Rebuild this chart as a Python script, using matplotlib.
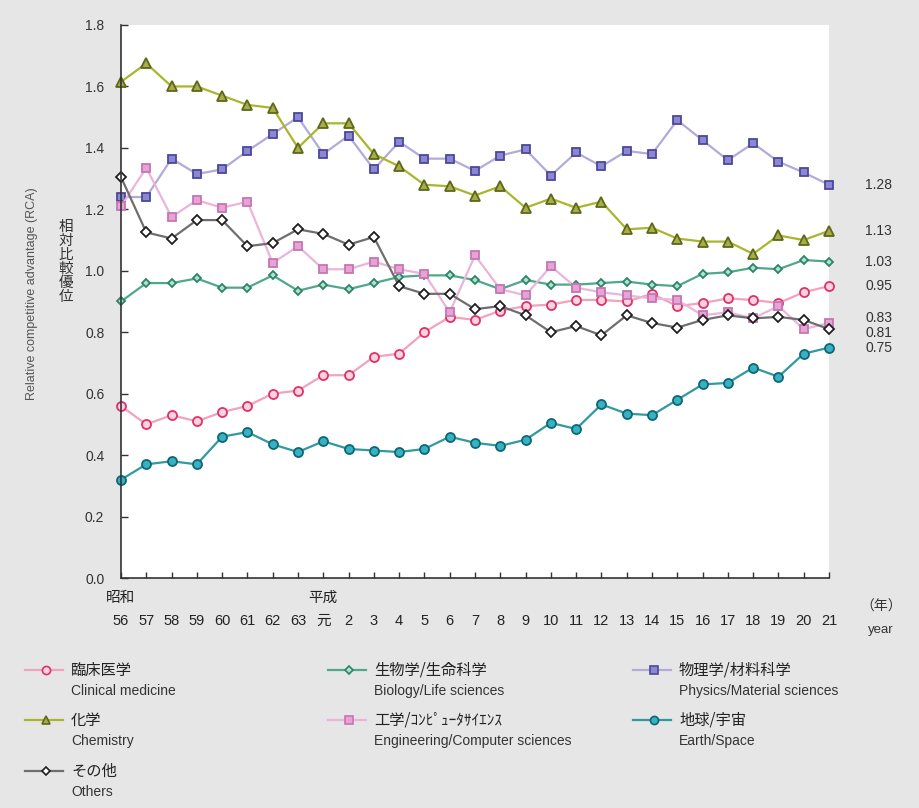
import matplotlib.pyplot as plt
from matplotlib.lines import Line2D
from matplotlib import font_manager

# フォント
names = {f.name for f in font_manager.fontManager.ttflist}
narrow = 'Liberation Sans Narrow' if 'Liberation Sans Narrow' in names else 'Liberation Sans'
plt.rcParams['font.family'] = ['Liberation Sans', 'Noto Sans CJK JP', 'DejaVu Sans']

# データ (年度: 昭和56 - 平成21)
years = ['56', '57', '58', '59', '60', '61', '62', '63', '元', '2', '3', '4', '5', '6',
         '7', '8', '9', '10', '11', '12', '13', '14', '15', '16', '17', '18', '19', '20', '21']

clinical = [0.56, 0.50, 0.53, 0.51, 0.54, 0.56, 0.60, 0.61, 0.66, 0.66, 0.72, 0.73, 0.80, 0.85,
            0.84, 0.87, 0.885, 0.89, 0.905, 0.905, 0.90, 0.925, 0.885, 0.895, 0.91, 0.905,
            0.895, 0.93, 0.95]
biology = [0.90, 0.96, 0.96, 0.975, 0.945, 0.945, 0.985, 0.935, 0.955, 0.94, 0.96, 0.98, 0.985,
           0.985, 0.97, 0.94, 0.97, 0.955, 0.955, 0.96, 0.965, 0.955, 0.95, 0.99, 0.995, 1.01,
           1.005, 1.035, 1.03]
physics = [1.24, 1.24, 1.365, 1.315, 1.33, 1.39, 1.445, 1.50, 1.38, 1.44, 1.33, 1.42, 1.365,
           1.365, 1.325, 1.375, 1.395, 1.31, 1.385, 1.34, 1.39, 1.38, 1.49, 1.425, 1.36, 1.415,
           1.355, 1.32, 1.28]
chemistry = [1.615, 1.675, 1.60, 1.60, 1.57, 1.54, 1.53, 1.40, 1.48, 1.48, 1.38, 1.34, 1.28,
             1.275, 1.245, 1.275, 1.205, 1.235, 1.205, 1.225, 1.135, 1.14, 1.105, 1.095, 1.095,
             1.055, 1.115, 1.10, 1.13]
engineering = [1.21, 1.335, 1.175, 1.23, 1.205, 1.225, 1.025, 1.08, 1.005, 1.005, 1.03, 1.005,
               0.99, 0.865, 1.05, 0.94, 0.92, 1.015, 0.945, 0.93, 0.92, 0.91, 0.905, 0.855,
               0.865, 0.845, 0.885, 0.81, 0.83]
earth = [0.32, 0.37, 0.38, 0.37, 0.46, 0.475, 0.435, 0.41, 0.445, 0.42, 0.415, 0.41, 0.42, 0.46,
         0.44, 0.43, 0.45, 0.505, 0.485, 0.565, 0.535, 0.53, 0.58, 0.63, 0.635, 0.685, 0.655,
         0.73, 0.75]
others = [1.305, 1.125, 1.105, 1.165, 1.165, 1.08, 1.09, 1.135, 1.12, 1.085, 1.11, 0.95, 0.925,
          0.925, 0.875, 0.885, 0.855, 0.80, 0.82, 0.79, 0.855, 0.83, 0.815, 0.84, 0.855, 0.845,
          0.85, 0.84, 0.81]

labels_jp = ['臨床医学', '生物学/生命科学', '物理学/材料科学', '化学',
             '工学/ｺﾝﾋﾟｭｰﾀｻｲｴﾝｽ', '地球/宇宙', 'その他']
labels_en = ['Clinical medicine', 'Biology/Life sciences', 'Physics/Material sciences',
             'Chemistry', 'Engineering/Computer sciences', 'Earth/Space', 'Others']

series = [clinical, biology, physics, chemistry, engineering, earth, others]
# (線色, マーカー, 塗り, 縁, サイズ)
styles = [
    ('#f2a3bb', 'o', '#fbd3df', '#e0306a', 6.5),
    ('#4fa88a', 'D', '#b2e0cf', '#2b8465', 4.5),
    ('#b2aad9', 's', '#8c86d4', '#4a4898', 6.2),
    ('#a9b52a', '^', '#a8ac4a', '#5c6818', 7.0),
    ('#ecb4da', 's', '#e8a2d4', '#c476b4', 6.2),
    ('#2f9aa0', 'o', '#38b2c2', '#0d6774', 6.5),
    ('#6e6e6e', 'D', '#ffffff', '#1e1e1e', 5.0),
]

W, H = 919, 808
fig = plt.figure(figsize=(W / 100, H / 100), dpi=100, facecolor='#e6e6e6')
ax = fig.add_axes([121 / W, 1 - 578 / H, 708 / W, 553 / H])
ax.set_facecolor('white')

x = list(range(len(years)))
for vals, (lc, mk, fc, ec, ms) in zip(series, styles):
    ax.plot(x, vals, color=lc, lw=1.6, marker=mk, markersize=ms,
            markerfacecolor=fc, markeredgecolor=ec, markeredgewidth=1.3, clip_on=False)

ax.set_xlim(0, len(years) - 1)
ax.set_ylim(0, 1.8)
ax.set_yticks([0, 0.2, 0.4, 0.6, 0.8, 1.0, 1.2, 1.4, 1.6, 1.8])
ax.set_yticklabels([f'{v:.1f}' for v in ax.get_yticks()], fontsize=10, color='#333333')
ax.set_xticks(x)
ax.set_xticklabels(years, fontsize=10.5, color='#222222', family=[narrow, 'Noto Sans CJK JP'])
ax.tick_params(axis='y', direction='in', length=5, width=1, pad=12, color='#333333')
ax.tick_params(axis='x', direction='in', length=4, width=1, pad=26, color='#333333')
for s in ['top', 'right']:
    ax.spines[s].set_visible(False)
for s in ['left', 'bottom']:
    ax.spines[s].set_color('#333333')
    ax.spines[s].set_linewidth(1.2)

# 元号
ax.text(0, -0.036, '昭和', transform=ax.get_xaxis_transform(), ha='center', va='center',
        fontsize=10.5, color='#222222', family=['Noto Sans CJK JP'])
ax.text(years.index('元'), -0.036, '平成', transform=ax.get_xaxis_transform(), ha='center',
        va='center', fontsize=10.5, color='#222222', family=['Noto Sans CJK JP'])
fig.text(881 / W, 1 - 607 / H, '（年）', ha='center', va='center', fontsize=10,
         color='#333333', family=['Noto Sans CJK JP'])
fig.text(881 / W, 1 - 630 / H, 'year', ha='center', va='center', fontsize=9.5,
         color='#333333', family=[narrow])

# 軸ラベル
fig.text(32 / W, 1 - 294 / H, 'Relative competitive advantage (RCA)', rotation=90,
         ha='center', va='center', fontsize=9, color='#555555')
fig.text(66 / W, 1 - 262 / H, '相\n対\n比\n較\n優\n位', ha='center', va='center',
         fontsize=10.5, color='#333333', linespacing=1.0, family=['Noto Sans CJK JP'])

# 右端の値
end_order = [2, 3, 1, 0, 4, 6, 5]
end_shift = {4: 0.016, 6: -0.012}
for k in end_order:
    v = series[k][-1]
    ax.text(1.051, v + end_shift.get(k, 0), f'{v:.2f}', transform=ax.get_yaxis_transform(),
            ha='left', va='center', fontsize=10, color='#333333')

# 凡例
col_x = [25, 328, 633]
row_y = [670, 720, 771]
pos = [(0, 0), (1, 0), (2, 0), (0, 1), (1, 1), (2, 1), (0, 2)]
for k, (c, r) in enumerate(pos):
    lc, mk, fc, ec, ms = styles[k]
    x0 = col_x[c]
    y0 = row_y[r]
    fig.add_artist(Line2D([x0 / W, (x0 + 38) / W], [1 - y0 / H, 1 - y0 / H], color=lc, lw=1.6,
                          transform=fig.transFigure))
    fig.add_artist(Line2D([(x0 + 21) / W], [1 - y0 / H], marker=mk, markersize=ms * 0.9,
                          markerfacecolor=fc, markeredgecolor=ec, markeredgewidth=1.2,
                          transform=fig.transFigure))
    fig.text((x0 + 46) / W, 1 - y0 / H, labels_jp[k], ha='left', va='center', fontsize=11,
             color='#222222', family=['Noto Sans CJK JP'])
    fig.text((x0 + 46) / W, 1 - (y0 + 21) / H, labels_en[k], ha='left', va='center',
             fontsize=10, color='#333333')

fig.savefig('out.png', dpi=100, facecolor=fig.get_facecolor())
